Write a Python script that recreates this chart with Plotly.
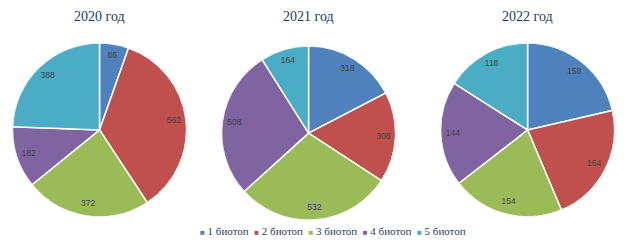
import plotly.graph_objects as go
import numpy as np

years = ["2020 год", "2021 год", "2022 год"]
biotopes = ["1 биотоп", "2 биотоп", "3 биотоп", "4 биотоп", "5 биотоп"]
v2020 = [86, 562, 372, 182, 388]
v2021 = [318, 308, 532, 508, 164]
v2022 = [158, 164, 154, 144, 118]
colors = ["#4F81BD", "#C0504D", "#9BBB59", "#8064A2", "#4BACC6"]

series = [v2020, v2021, v2022]
dom_x = [[0.020, 0.299], [0.355, 0.634], [0.706, 0.985]]
dom_y = [[0.111, 0.824], [0.098, 0.811], [0.111, 0.824]]
title_x = [0.160, 0.495, 0.845]

fig = go.Figure()
layout_polars = {}
for i, vals in enumerate(series):
    v = np.array(vals, dtype=float)
    widths = v / v.sum() * 360
    mids = (np.cumsum(v) - v / 2) / v.sum() * 360
    pname = "polar" if i == 0 else f"polar{i+1}"
    fig.add_trace(go.Barpolar(
        r=[1] * len(vals), theta=mids, width=widths, base=0,
        marker=dict(color=colors, line=dict(color="white", width=1.5)),
        subplot=pname, showlegend=False, text=biotopes,
        customdata=vals, hovertemplate="%{text}: %{customdata}<extra></extra>",
    ))
    fig.add_trace(go.Scatterpolar(
        r=[0.86] * len(vals), theta=mids, mode="text", text=[str(x) for x in vals],
        textfont=dict(family="Liberation Sans, Arial", size=8.5, color="#404040"),
        subplot=pname, showlegend=False, hoverinfo="skip",
    ))
    layout_polars[pname] = dict(
        domain=dict(x=dom_x[i], y=dom_y[i]), bgcolor="rgba(0,0,0,0)",
        radialaxis=dict(visible=False, range=[0, 1]),
        angularaxis=dict(visible=False, rotation=90, direction="clockwise"),
        bargap=0,
    )
    fig.add_annotation(
        x=title_x[i], y=0.934, xref="paper", yref="paper", text=years[i], showarrow=False,
        font=dict(family="Liberation Serif, Times New Roman", size=14, color="#1F3864"),
        xanchor="center", yanchor="middle",
    )

legend_text = "&nbsp;&nbsp;".join(
    f"<span style='color:{c};font-size:8px'>■</span> {b}" for c, b in zip(colors, biotopes)
)
fig.add_annotation(
    x=0.534, y=0.053, xref="paper", yref="paper", text=legend_text, showarrow=False,
    font=dict(family="Liberation Serif, Times New Roman", size=11, color="#2F3B5C"),
    xanchor="center", yanchor="middle",
)

fig.update_layout(
    width=624, height=244, margin=dict(l=0, r=0, t=0, b=0),
    paper_bgcolor="white", plot_bgcolor="white", **layout_polars,
)
fig.write_html("out.html", config={"displayModeBar": False},
               post_script="document.body.style.margin='0px';")
